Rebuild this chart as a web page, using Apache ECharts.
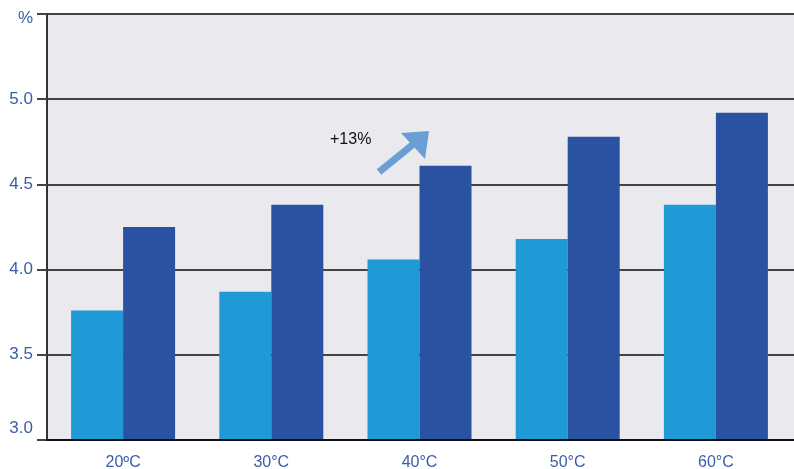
<!DOCTYPE html>
<html><head><meta charset="utf-8">
<script src="https://cdn.jsdelivr.net/npm/echarts@6/dist/echarts.min.js"></script>
<style>html,body{margin:0;padding:0;background:#fff}#c{width:794px;height:469px}</style>
</head><body><div id="c"></div>
<script>
const categories = ['20ºC', '30°C', '40°C', '50°C', '60°C'];
const seriesLight = [3.76, 3.87, 4.06, 4.18, 4.38];
const seriesDark = [4.25, 4.38, 4.61, 4.78, 4.92];
const yTicks = [3.0, 3.5, 4.0, 4.5, 5.0, 5.5];
const annotationText = '+13%';

const chart = echarts.init(document.getElementById('c'));
const blue = '#3a5dab';
const yMin = yTicks[0], yMax = yTicks[yTicks.length - 1];
chart.setOption({
  animation: false,
  graphic: [
    { type: 'text', left: 330, top: 132, style: { text: annotationText, fontSize: 16, fontFamily: 'Liberation Sans', fill: '#111' } },
    { type: 'line', shape: { x1: 379, y1: 172, x2: 416, y2: 142 }, style: { stroke: '#6a9fd6', lineWidth: 7 } },
    { type: 'polygon', shape: { points: [[429, 131], [401, 133], [425, 159]] }, style: { fill: '#6a9fd6' } }
  ],
  grid: [
    { left: 49, right: 4, top: 14, bottom: 29, outerBoundsMode: 'none', containLabel: false },
    { left: 47, right: 0, top: 14, bottom: 29, outerBoundsMode: 'none', containLabel: false, show: true, backgroundColor: '#e9e9ee', borderWidth: 0, z: -1 }
  ],
  xAxis: [
    {
      type: 'category', data: categories, gridIndex: 0,
      axisLine: { show: false },
      axisTick: { show: false },
      axisLabel: { color: blue, fontSize: 16, fontFamily: 'Liberation Sans', margin: 15 }
    },
    {
      type: 'category', data: categories, gridIndex: 1, z: 10,
      axisLine: { lineStyle: { color: '#111', width: 2 } },
      axisTick: { show: false }, axisLabel: { show: false }
    }
  ],
  yAxis: [
    {
      type: 'value', gridIndex: 0, min: yMin, max: yMax, interval: 0.5,
      axisLine: { show: false }, axisTick: { show: false }, axisLabel: { show: false }, splitLine: { show: false }
    },
    {
      type: 'value', gridIndex: 1, min: yMin, max: yMax, interval: 0.5,
      axisLine: { show: true, lineStyle: { color: '#333', width: 2 } },
      axisTick: { show: true, length: 10, lineStyle: { color: '#444', width: 2 } },
      splitLine: { lineStyle: { color: '#444', width: 2 } },
      axisLabel: {
        color: blue, fontSize: 17, fontFamily: 'Liberation Sans', margin: 14,
        formatter: v => {
          if (Math.abs(v - yMax) < 1e-9) return '{top|%}';
          if (Math.abs(v - yMin) < 1e-9) return '{low|' + v.toFixed(1) + '}';
          return v.toFixed(1);
        },
        rich: {
          top: { color: blue, fontSize: 17, fontFamily: 'Liberation Sans', padding: [8, 0, 0, 0] },
          low: { color: blue, fontSize: 17, fontFamily: 'Liberation Sans', padding: [0, 0, 24, 0] }
        }
      }
    }
  ],
  series: [
    { type: 'bar', xAxisIndex: 0, yAxisIndex: 0, z: 5, data: seriesLight, barWidth: 52, barGap: '0%', itemStyle: { color: '#1f9ad6' } },
    { type: 'bar', xAxisIndex: 0, yAxisIndex: 0, z: 5, data: seriesDark, barWidth: 52, barGap: '0%', itemStyle: { color: '#2b52a0' } }
  ]
});
</script></body></html>
